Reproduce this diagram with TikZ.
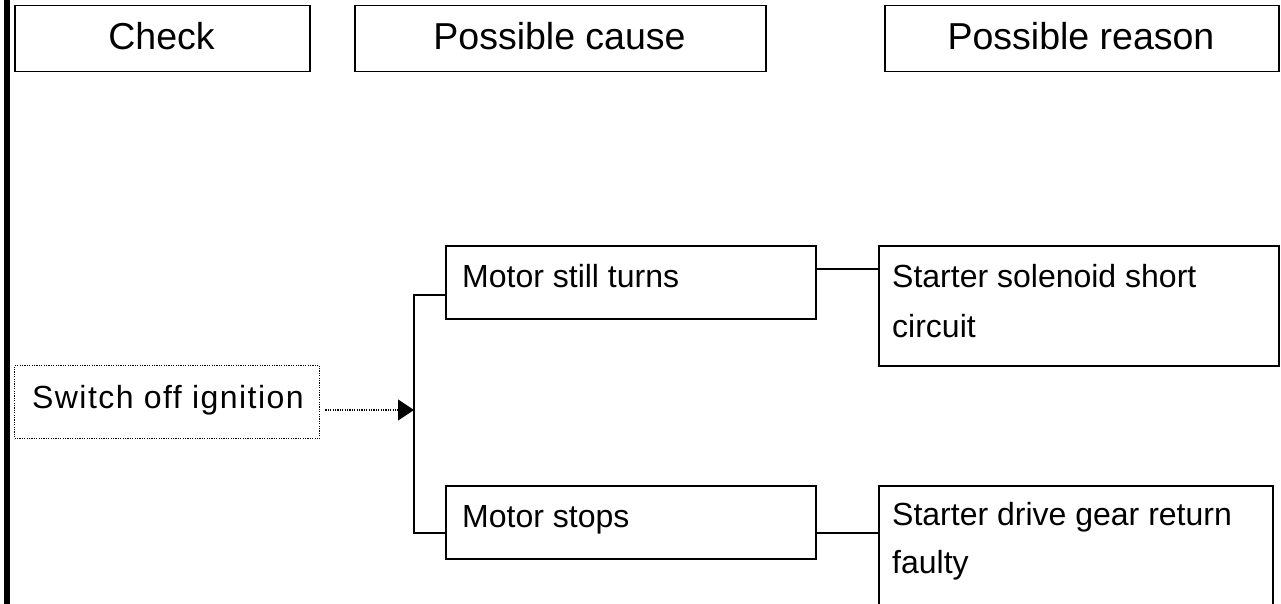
\documentclass[tikz,border=0pt]{standalone}
\usepackage{fontspec}
\setmainfont{Liberation Sans}
\newfontfamily\spacedfont[LetterSpace=4.5]{Liberation Sans}
\usetikzlibrary{arrows.meta}
\begin{document}
\begin{tikzpicture}[x=1pt,y=-1pt,
  box/.style={draw,line width=1.5pt,rectangle,inner sep=0pt,anchor=north west},
  dotbox/.style={draw,line width=1.3pt,dash pattern=on 1.2pt off 1.2pt,rectangle,inner sep=0pt,anchor=north west},
  head/.style={inner sep=0pt,anchor=base,font=\fontsize{37.5}{45}\selectfont},
  body/.style={inner sep=0pt,anchor=base west,font=\fontsize{32}{40}\selectfont},
  link/.style={line width=1.5pt}]
\clip (0,0) rectangle (1281,604);
\fill[white] (0,0) rectangle (1281,604);
% left bar
\fill[black] (4,0) rectangle (9.5,604);
% header boxes
\node[box,minimum width=295pt,minimum height=66pt] (hc) at (14,5) {};
\node[box,minimum width=411pt,minimum height=66pt] (hpc) at (354,5) {};
\node[box,minimum width=394pt,minimum height=66pt] (hpr) at (884,5) {};
\node[head] (thc) at (161.5,50) {Check};
\node[head] (thpc) at (559.5,50) {Possible cause};
\node[head] (thpr) at (1081,50) {Possible reason};
% check box
\node[dotbox,minimum width=305pt,minimum height=73pt] (sw) at (14,365) {};
\node[inner sep=0pt,anchor=base west,font=\spacedfont\fontsize{32}{40}\selectfont] (tsw) at (32,408) {Switch off ignition};
% cause boxes
\node[box,minimum width=370pt,minimum height=73pt] (m1) at (445,245) {};
\node[box,minimum width=370pt,minimum height=73pt] (m2) at (445,485) {};
\node[body] (tm1) at (462,287) {Motor still turns};
\node[body] (tm2) at (462,527) {Motor stops};
% reason boxes
\node[box,minimum width=400pt,minimum height=120pt] (s1) at (878,245) {};
\node[box,minimum width=394pt,minimum height=140pt] (s2) at (878,485) {};
\node[body] (ts1a) at (892,287) {Starter solenoid short};
\node[body] (ts1b) at (892,337) {circuit};
\node[body] (ts2a) at (892,525) {Starter drive gear return};
\node[body] (ts2b) at (892,573) {faulty};
% connectors
\coordinate (jt) at (414,295);
\coordinate (jb) at (414,533);
\coordinate (ja) at (414,410);
\draw[link] (m1.west |- jt) -- (jt) -- (jb) -- (m2.west |- jb);
\draw[line width=1.3pt,dash pattern=on 1.2pt off 1.2pt,-{Triangle[length=16pt,width=21pt]}] ([xshift=5pt]sw.east |- ja) -- (ja);
\draw[link] (m1.east |- 0,269) -- (s1.west |- 0,269);
\draw[link] (m2.east |- 0,533) -- (s2.west |- 0,533);
\end{tikzpicture}
\end{document}
